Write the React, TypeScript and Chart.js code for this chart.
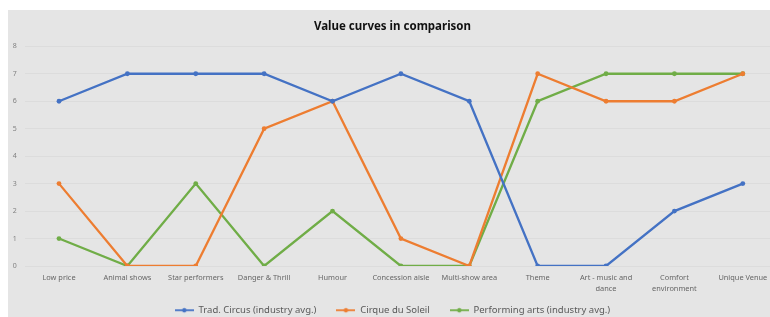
import React, { useEffect, useRef } from "react";
import { Chart, registerables } from "chart.js";

Chart.register(...registerables);

const categories: (string | string[])[] = [
  "Low price",
  "Animal shows",
  "Star performers",
  "Danger & Thrill",
  "Humour",
  "Concession aisle",
  "Multi-show area",
  "Theme",
  ["Art - music and", "dance"],
  ["Comfort", "environment"],
  "Unique Venue",
];

const tradCircus = [6, 7, 7, 7, 6, 7, 6, 0, 0, 2, 3];
const cirqueDuSoleil = [3, 0, 0, 5, 6, 1, 0, 7, 6, 6, 7];
const performingArts = [1, 0, 3, 0, 2, 0, 0, 6, 7, 7, 7];

const seriesNames = [
  "Trad. Circus (industry avg.)",
  "Cirque du Soleil",
  "Performing arts (industry avg.)",
];
const seriesColors = ["#4472C4", "#ED7D31", "#70AD47"];
const yTicks = [0, 1, 2, 3, 4, 5, 6, 7, 8];

const FONT = "'Noto Sans', 'Open Sans', sans-serif";

function legendIcon(color: string) {
  const c = document.createElement("canvas");
  c.width = 19;
  c.height = 8;
  const ctx = c.getContext("2d")!;
  ctx.strokeStyle = color;
  ctx.lineWidth = 1.8;
  ctx.beginPath();
  ctx.moveTo(0, 4);
  ctx.lineTo(19, 4);
  ctx.stroke();
  ctx.fillStyle = color;
  ctx.beginPath();
  ctx.arc(9.5, 4, 2.2, 0, Math.PI * 2);
  ctx.fill();
  return c;
}

export default function App() {
  const ref = useRef<HTMLCanvasElement>(null);

  useEffect(() => {
    document.body.style.margin = "0";
    const icons = seriesColors.map(legendIcon);
    const datasets = [tradCircus, cirqueDuSoleil, performingArts].map((d, i) => ({
      label: seriesNames[i],
      data: d,
      borderColor: seriesColors[i],
      backgroundColor: seriesColors[i],
      pointBackgroundColor: seriesColors[i],
      pointBorderColor: seriesColors[i],
      borderWidth: 2.3,
      pointRadius: 2.4,
      pointBorderWidth: 0,
      tension: 0,
      fill: false,
    }));
    const chart = new Chart(ref.current!, {
      type: "line",
      data: { labels: categories, datasets },
      options: {
        animation: false,
        responsive: false,
        maintainAspectRatio: false,
        layout: { padding: { left: 0, right: 11, top: 0, bottom: 0 } },
        plugins: {
          tooltip: { enabled: false },
          title: {
            display: true,
            text: "Value curves in comparison",
            color: "#111",
            font: { family: FONT, size: 11.5, weight: "bold" },
            padding: { top: 9.5, bottom: 13 },
          },
          legend: {
            position: "bottom",
            labels: {
              color: "#595959",
              font: { family: FONT, size: 9.5 },
              usePointStyle: true,
              pointStyleWidth: 19,
              padding: 20,
              generateLabels: (ch: any) => {
                const items = Chart.defaults.plugins.legend.labels.generateLabels(ch);
                return items.map((it: any, i: number) => ({ ...it, pointStyle: icons[i] }));
              },
            },
          },
        },
        scales: {
          x: {
            offset: true,
            afterFit: (s: any) => {
              s.height = 19.5;
              s._computeLabelArea = () => undefined;
            },
            grid: { display: false, drawTicks: false },
            border: { display: false },
            ticks: {
              color: "#666",
              font: { family: FONT, size: 7.4, lineHeight: 1.45 },
              padding: 7,
              maxRotation: 0,
              autoSkip: false,
            },
          },
          y: {
            min: 0,
            max: 8,
            afterFit: (s: any) => {
              s.width = 16.8;
            },
            afterBuildTicks: (s: any) => {
              s.ticks = yTicks.map((v) => ({ value: v }));
            },
            grid: { color: "#dcdcdc", lineWidth: 1, drawTicks: false },
            border: { display: false },
            ticks: {
              color: "#808080",
              font: { family: FONT, size: 7 },
              padding: 8,
            },
          },
        },
      },
    } as any);
    return () => chart.destroy();
  }, []);

  return (
    <div style={{ position: "relative", width: 770, height: 317, overflow: "hidden", background: "#fff" }}>
      <div
        style={{
          position: "absolute",
          left: 8,
          top: 10,
          width: 780,
          height: 315,
          background: "#e5e5e5",
        }}
      >
        <canvas ref={ref} width={780} height={315} style={{ display: "block" }} />
      </div>
    </div>
  );
}
